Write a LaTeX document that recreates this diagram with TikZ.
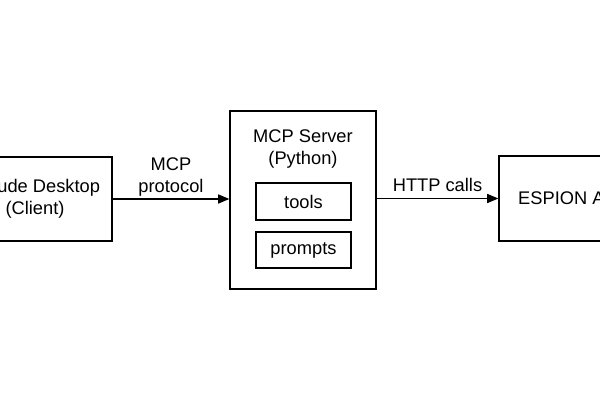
\documentclass[tikz,border=0pt]{standalone}
\usepackage{fontspec}
\setmainfont{Liberation Sans}
\usepackage{tikz}
\usetikzlibrary{arrows.meta, positioning}

\begin{document}
\begin{tikzpicture}[x=0.025cm, y=-0.025cm,
    every node/.style={font=\fontsize{13}{16}\selectfont},
    box/.style={draw=black, line width=0.9pt, align=center, inner sep=0pt},
    flow/.style={-{Triangle[length=8pt, width=6.5pt]}, line width=0.9pt},
    lbl/.style={above=1pt, align=center}]

\useasboundingbox (0,0) rectangle (600,400);

% --- CLIENT (Left) ---
\node[box, minimum width=3.85cm, minimum height=2.1cm] (client) at (35,199)
    {Claude Desktop\\(Client)};

% --- MCP SERVER (Middle) ---
\node[box, minimum width=3.65cm, minimum height=4.45cm] (server) at (303,200) {};
\node[align=center] (title) at (303,149) {MCP Server\\(Python)};
\node[box, minimum width=2.375cm, minimum height=0.925cm] (tools) at (303.5,201.5) {tools};
\node[box, minimum width=2.375cm, minimum height=0.9cm] (prompts) at (303.5,250) {prompts};

% --- ESPION API (Right) ---
\node[box, minimum width=3.55cm, minimum height=2.125cm] (api) at (570,198.5) {ESPION API};

% --- CONNECTIONS ---
\draw[flow] (client.east) -- node[lbl, yshift=-3pt] {MCP\\protocol} (client.east -| server.west);
\draw[flow] (api.west -| server.east) -- node[lbl] {HTTP calls} (api.west);

\end{tikzpicture}
\end{document}
